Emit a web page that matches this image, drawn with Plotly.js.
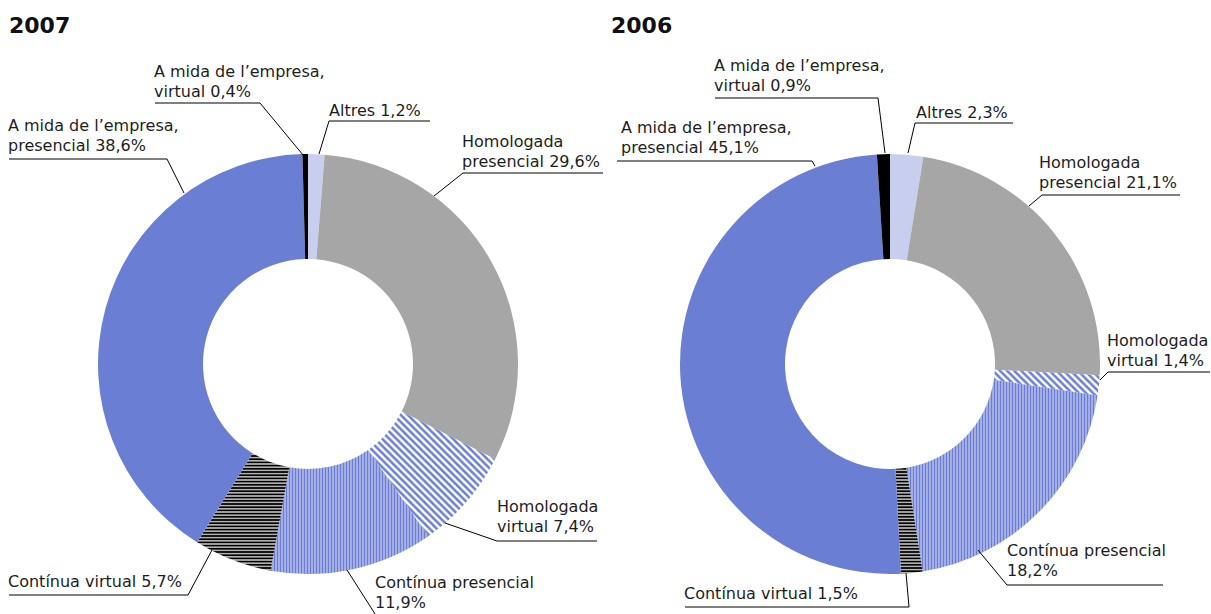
<!DOCTYPE html>
<html>
<head>
<meta charset="utf-8">
<script src="https://cdn.plot.ly/plotly-3.0.1.min.js"></script>
<style>
  html, body { margin: 0; padding: 0; background: #ffffff; }
  #chart { width: 1211px; height: 614px; }
</style>
</head>
<body>
<div id="chart"></div>
<script>
// ---- data ----
const categories = [
  "Altres",
  "Homologada<br>presencial",
  "Homologada<br>virtual",
  "Contínua presencial<br>",
  "Contínua virtual",
  "A mida de l’empresa,<br>presencial",
  "A mida de l’empresa,<br>virtual"
];
const values2007 = [1.2, 29.6, 7.4, 11.9, 5.7, 38.6, 0.4];
const values2006 = [2.3, 21.1, 1.4, 18.2, 1.5, 45.1, 0.9];
const years = ["2007", "2006"];

// ---- styles ----
const W = 1211, H = 614;
const BLUE = "#6A7ED4";
const sliceColors = ["#C8CFEE", "#A6A6A6", BLUE, BLUE, "#000000", BLUE, "#000000"];
const pattern = {
  shape:    ["", "", "\\", "|", "-", "", ""],
  fgcolor:  ["#C8CFEE", "#A6A6A6", BLUE, BLUE, "#000000", BLUE, "#000000"],
  bgcolor:  ["#ffffff", "#ffffff", "#ffffff", "#ffffff", "#ffffff", "#ffffff", "#ffffff"],
  size:     [4, 4, 5, 3, 3.2, 4, 4],
  solidity: [0.5, 0.5, 0.5, 0.75, 0.65, 0.5, 0.5],
  fillmode: "replace"
};

// label placement in pixels: text left x, first baseline, leader (pie point, corner, end)
const labelPos = [
  [ // 2007
    {x: 330, b: 116, p: [[319,154],[329,121],[430,121]]},
    {x: 463, b: 147, p: [[434,196],[463,173],[603,173]]},
    {x: 498, b: 512, p: [[445,523],[497,541],[597,541]]},
    {x: 376, b: 588, p: [[347,570],[377,617],[560,617]]},
    {x: 9,   b: 587, p: [[212,550],[188,595],[9,595]]},
    {x: 9,   b: 131, p: [[184,193],[167,159],[9,159]]},
    {x: 155, b: 77,  p: [[303,155],[260,103],[155,103]]}
  ],
  [ // 2006
    {x: 917,  b: 118, p: [[908,153],[915,123],[1013,123]]},
    {x: 1040, b: 168, p: [[1029,206],[1042,195],[1180,195]]},
    {x: 1108, b: 346, p: [[1100,380],[1108,372],[1210,372]]},
    {x: 1008, b: 556, p: [[978,550],[1007,585],[1163,585]]},
    {x: 685,  b: 599, p: [[906,573],[909,607],[685,607]]},
    {x: 622,  b: 133, p: [[815,166],[812,161],[617,161]]},
    {x: 715,  b: 71,  p: [[885,153],[878,98],[715,98]]}
  ]
];
const titlePos = [{x: 10, b: 33}, {x: 612, b: 33}];
const domains = [
  {x: [98 / W, 518 / W], y: [0.0651, 0.7492]},
  {x: [680 / W, 1100 / W], y: [0.0651, 0.7492]}
];
const LINE_GAP = 20.5;
const FONT = "DejaVu Sans, Verdana, sans-serif";

const px = v => v / W;
const py = v => 1 - v / H;
const fmt = v => v.toFixed(1).replace(".", ",") + "%";

const allValues = [values2007, values2006];
const traces = allValues.map((vals, i) => ({
  type: "pie",
  labels: categories,
  values: vals,
  sort: false,
  direction: "clockwise",
  rotation: 0,
  hole: 0.5,
  textinfo: "none",
  hoverinfo: "label+percent",
  showlegend: false,
  domain: domains[i],
  marker: {colors: sliceColors, line: {width: 0}, pattern: pattern}
}));

const annotations = [];
const shapes = [];
allValues.forEach((vals, i) => {
  categories.forEach((cat, k) => {
    const full = cat + (cat.endsWith("<br>") ? "" : " ") + fmt(vals[k]);
    const lines = full.split("<br>");
    const pos = labelPos[i][k];
    lines.forEach((ln, j) => {
      annotations.push({
        xref: "paper", yref: "paper",
        x: px(pos.x - 3), y: py(pos.b + j * LINE_GAP - 5.7),
        xanchor: "left", yanchor: "middle",
        text: ln, showarrow: false,
        font: {family: FONT, size: 16, color: "#1e1e1e"}
      });
    });
    const pts = pos.p;
    shapes.push({
      type: "path", xref: "paper", yref: "paper",
      path: "M" + pts.map(q => px(q[0]) + "," + py(q[1])).join(" L"),
      line: {color: "#000000", width: 1}
    });
  });
  annotations.push({
    xref: "paper", yref: "paper",
    x: px(titlePos[i].x - 3), y: py(titlePos[i].b - 7.8),
    xanchor: "left", yanchor: "middle",
    text: "<b>" + years[i] + "</b>", showarrow: false,
    font: {family: FONT, size: 22, color: "#111111"}
  });
});

const layout = {
  width: W, height: H,
  margin: {l: 0, r: 0, t: 0, b: 0},
  paper_bgcolor: "#ffffff",
  plot_bgcolor: "#ffffff",
  annotations: annotations,
  shapes: shapes
};

Plotly.newPlot("chart", traces, layout, {displayModeBar: false, staticPlot: true});
</script>
</body>
</html>
